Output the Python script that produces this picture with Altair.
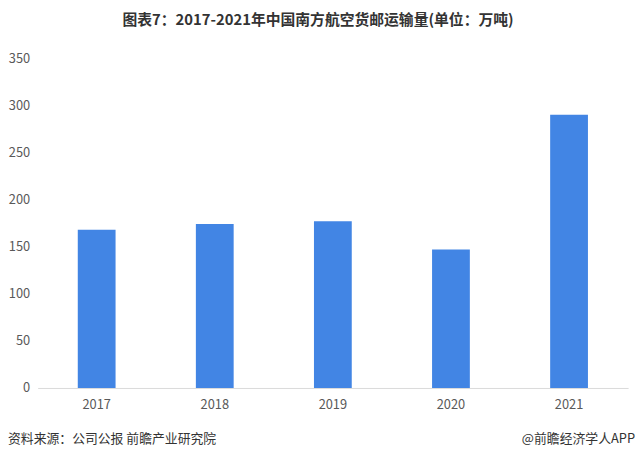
import altair as alt
import pandas as pd

years = ["2017", "2018", "2019", "2020", "2021"]
values = [168, 174, 177, 147, 290]
y_ticks = [0, 50, 100, 150, 200, 250, 300, 350]
title_text = "图表7：2017-2021年中国南方航空货邮运输量(单位：万吨)"
source_text = "资料来源：公司公报 前瞻产业研究院"
brand_text = "@前瞻经济学人APP"

FONT = "Noto Sans CJK SC"
W, H = 598, 334

df = pd.DataFrame({"year": years, "value": values})

bars = alt.Chart(df).mark_bar(color="#4285E4").encode(
    x=alt.X("year:N", sort=years,
            scale=alt.Scale(paddingInner=0.68, paddingOuter=0.34),
            axis=alt.Axis(title=None, labelAngle=0, ticks=False, domain=True,
                          domainColor="#d9d9d9", grid=False,
                          labelColor="#595959", labelFont=FONT,
                          labelFontSize=13, labelPadding=11)),
    y=alt.Y("value:Q", scale=alt.Scale(domain=[0, 350], nice=False),
            axis=alt.Axis(title=None, values=y_ticks, ticks=False, domain=False,
                          grid=False, labelColor="#595959", labelFont=FONT,
                          labelFontSize=13, labelPadding=8)),
)

src = alt.Chart(pd.DataFrame({"t": [source_text]})).mark_text(
    align="left", baseline="middle", font=FONT, fontSize=13, color="#333333"
).encode(text="t:N", x=alt.value(-30), y=alt.value(H + 52))

brand = alt.Chart(pd.DataFrame({"t": [brand_text]})).mark_text(
    align="right", baseline="middle", font=FONT, fontSize=13, color="#333333"
).encode(text="t:N", x=alt.value(W + 7), y=alt.value(H + 52))

chart = alt.layer(bars, src, brand).properties(
    width=W, height=H,
    background="white",
    autosize=alt.AutoSizeParams(type="none"),
    padding={"left": 30, "top": 48, "right": 8, "bottom": 58},
    title=alt.TitleParams(title_text, font=FONT, fontSize=15, fontWeight="bold",
                          color="#333333", anchor="middle", dx=-15, offset=25),
).configure_view(strokeWidth=0, stroke="transparent")

chart.save("out.html", embed_options={"renderer": "svg", "actions": False})
